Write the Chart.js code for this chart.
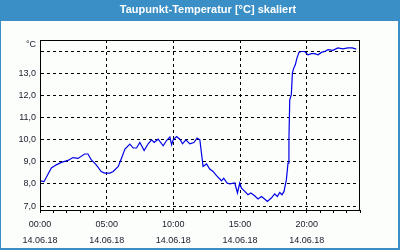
<!DOCTYPE html>
<html>
<head>
<meta charset="utf-8">
<script src="https://cdn.jsdelivr.net/npm/chart.js@4/dist/chart.umd.min.js"></script>
<style>
  html,body{margin:0;padding:0;background:#3a8fc6;}
  #wrap{width:400px;height:250px;position:relative;}
  canvas{display:block;}
</style>
</head>
<body>
<div id="wrap"><canvas id="c" width="400" height="250"></canvas></div>
<script>
// ---- data ----
const chartTitle = 'Taupunkt-Temperatur [°C] skaliert';
const unitLabel = '°C';
const dateLabel = '14.06.18';
const hours = [
  0.0, 0.3, 0.85, 1.22, 1.6, 2.1, 2.47, 2.85, 3.35, 3.6, 3.84, 4.22, 4.59, 4.85,
  5.24, 5.49, 5.87, 6.12, 6.37, 6.74, 6.99, 7.24, 7.49, 7.81, 8.11, 8.37, 8.56, 8.86,
  9.24, 9.49, 9.74, 9.87, 9.99, 10.24, 10.49, 10.69, 10.94, 11.24, 11.54, 11.78, 11.99,
  12.11, 12.23, 12.49, 12.73, 12.98, 13.24, 13.61, 13.78, 14.03, 14.23, 14.61, 14.81,
  14.98, 15.11, 15.36, 15.6, 15.81, 16.1, 16.35, 16.61, 16.85, 17.05, 17.35, 17.6,
  17.8, 17.98, 18.15, 18.3, 18.43, 18.48, 18.6, 18.67, 18.73, 18.85, 18.93, 19.03,
  19.15, 19.27, 19.42, 19.6, 19.85, 20.1, 20.35, 20.6, 20.85, 21.1, 21.35, 21.6,
  21.97, 22.34, 22.72, 23.09, 23.42, 23.72
];
const temps = [
  8.14, 8.1, 8.72, 8.86, 8.97, 9.06, 9.19, 9.15, 9.35, 9.35, 9.09, 8.86, 8.56, 8.49,
  8.49, 8.56, 8.79, 9.17, 9.57, 9.8, 9.62, 9.62, 9.87, 9.51, 9.81, 9.99, 9.87, 10.02,
  9.72, 9.96, 10.12, 9.77, 9.99, 10.14, 10.02, 9.81, 9.99, 9.81, 9.87, 10.07, 9.99,
  9.39, 8.79, 8.9, 8.67, 8.56, 8.37, 8.14, 8.26, 8.04, 8.0, 8.04, 7.59,
  8.04, 7.81, 7.66, 7.51, 7.59, 7.46, 7.32, 7.43, 7.32, 7.21, 7.36, 7.55,
  7.43, 7.61, 7.51, 7.66, 8.04, 8.19, 8.94, 9.99, 11.8, 12.03, 13.0, 13.23,
  13.38, 13.68, 13.94, 13.98, 13.98, 13.83, 13.88, 13.88, 13.83, 13.94, 13.98, 14.06,
  14.03, 14.14, 14.1, 14.14, 14.14, 14.09
];
const yTickValues = [7, 8, 9, 10, 11, 12, 13, 14];
const yTickLabels = ['7,0', '8,0', '9,0', '10,0', '11,0', '12,0', '13,0', ''];
const xMinorHours = [0,1,2,3,4,5,6,7,8,9,10,11,12,13,14,15,16,17,18,19,20,21,22,23,24];
const xMajorHours = [0, 5, 10, 15, 20];
const xMajorLabels = ['00:00', '05:00', '10:00', '15:00', '20:00'];
const yMin = 6.82, yMax = 14.5, xMin = 0, xMax = 24;

const FONT = '"Liberation Sans", Arial, sans-serif';
const BLUE = '#3a8fc6';
const BG = '#fcfefc';

const framePlugin = {
  id: 'frame',
  beforeDraw(chart) {
    const ctx = chart.ctx;
    ctx.save();
    ctx.fillStyle = BLUE;
    ctx.fillRect(0, 0, 400, 250);
    ctx.fillStyle = BG;
    ctx.fillRect(1, 21, 397, 227);
    ctx.fillStyle = '#ffffff';
    ctx.font = 'bold 11px ' + FONT;
    ctx.textAlign = 'center';
    ctx.textBaseline = 'middle';
    ctx.fillText(chartTitle, 208, 10);
    ctx.restore();
  },
  afterDraw(chart) {
    const ctx = chart.ctx, a = chart.chartArea;
    ctx.save();
    ctx.strokeStyle = '#000';
    ctx.lineWidth = 1;
    ctx.strokeRect(Math.round(a.left) + 0.5, Math.round(a.top) + 0.5,
                   Math.round(a.right - a.left) - 1, Math.round(a.bottom - a.top));
    ctx.fillStyle = '#1a1a2a';
    ctx.font = '9px ' + FONT;
    ctx.textAlign = 'right';
    ctx.textBaseline = 'middle';
    ctx.fillText(unitLabel, a.left - 4, a.top + 5);
    ctx.restore();
  }
};

new Chart(document.getElementById('c'), {
  type: 'line',
  data: {
    datasets: [{
      data: hours.map((h, i) => ({x: h, y: temps[i]})),
      borderColor: '#0000e6',
      borderWidth: 1.2,
      pointRadius: 0,
      tension: 0,
      fill: false
    }]
  },
  options: {
    responsive: false,
    animation: false,
    events: [],
    layout: {padding: {left: 0, right: 40, top: 40, bottom: 0}},
    plugins: {legend: {display: false}, tooltip: {enabled: false}, title: {display: false}},
    scales: {
      x: {
        type: 'linear', min: xMin, max: xMax,
        afterBuildTicks(s) { s.ticks = xMinorHours.map(v => ({value: v})); },
        afterFit(s) { s.height = 40; },
        grid: {
          color: c => xMajorHours.includes(c.tick && c.tick.value) && c.tick.value !== 0 ? '#000' : 'rgba(0,0,0,0)',
          tickColor: '#000',
          tickLength: 3,
          tickBorderDash: [],
          lineWidth: 1
        },
        border: {display: true, color: '#000', width: 1, dash: [3, 3]},
        ticks: {
          autoSkip: false, maxRotation: 0, padding: 4,
          color: '#1a1a2a',
          font: {family: FONT, size: 9, lineHeight: 1.75},
          callback: v => {
            const i = xMajorHours.indexOf(v);
            return i >= 0 ? [xMajorLabels[i], dateLabel] : '';
          }
        }
      },
      y: {
        type: 'linear', min: yMin, max: yMax,
        afterBuildTicks(s) { s.ticks = yTickValues.map(v => ({value: v})); },
        afterFit(s) { s.width = 40; },
        grid: {color: '#000', drawTicks: false, lineWidth: 1},
        border: {display: true, color: '#000', width: 1, dash: [3, 3]},
        ticks: {
          padding: 4,
          color: '#1a1a2a',
          font: {family: FONT, size: 9},
          callback: v => {
            const i = yTickValues.indexOf(v);
            return i >= 0 ? yTickLabels[i] : '';
          }
        }
      }
    }
  },
  plugins: [framePlugin]
});
</script>
</body>
</html>
